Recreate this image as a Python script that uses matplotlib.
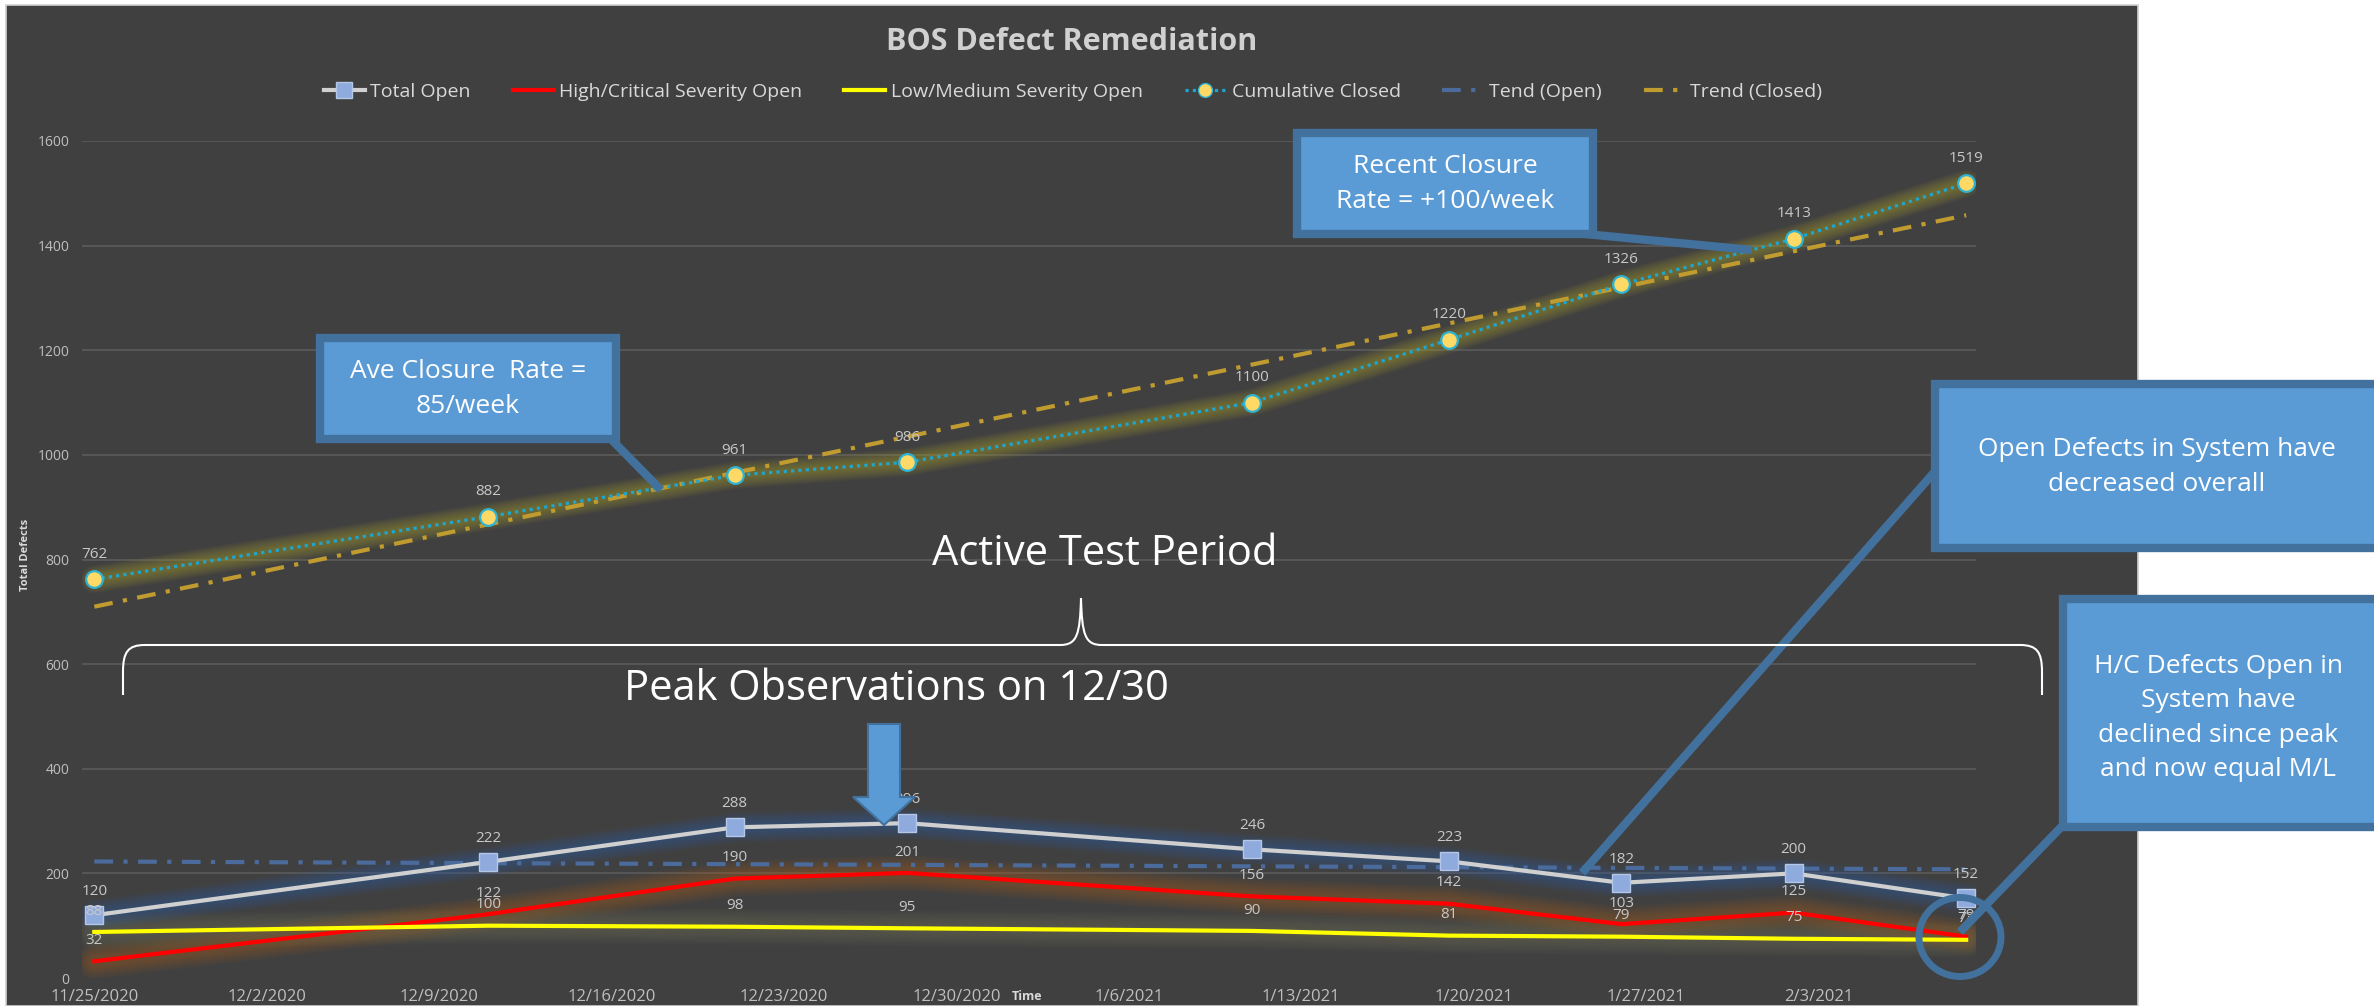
import numpy as np
import pandas as pd
import matplotlib
matplotlib.use('Agg')
import matplotlib.pyplot as plt
import matplotlib.dates as mdates
from matplotlib.lines import Line2D
from matplotlib.patches import Rectangle, Ellipse, Polygon, PathPatch
from matplotlib.path import Path
from matplotlib.ticker import FuncFormatter

# === DATA ===
dates = pd.to_datetime(['2020-11-25', '2020-12-11', '2020-12-21', '2020-12-28', '2021-01-11',
                        '2021-01-19', '2021-01-26', '2021-02-02', '2021-02-09'])
total_open = [120, 222, 288, 296, 246, 223, 182, 200, 152]
high_crit = [32, 122, 190, 201, 156, 142, 103, 125, 79]
low_med = [88, 100, 98, 95, 90, 81, 79, 75, 73]
cum_closed = [762, 882, 961, 986, 1100, 1220, 1326, 1413, 1519]
tick_dates = pd.date_range('2020-11-25', '2021-02-03', freq='7D')
y_ticks = [0, 200, 400, 600, 800, 1000, 1200, 1400, 1600]

# linear trendlines, like Excel does
xn = mdates.date2num(dates)
open_fit = np.polyfit(xn, total_open, 1)
closed_fit = np.polyfit(xn, cum_closed, 1)

W, H = 2374, 1006
BG = '#404040'
NARROW = ['Liberation Sans Narrow', 'Open Sans']
SANS = ['Open Sans', 'DejaVu Sans']
plt.rcParams['font.family'] = SANS

fig = plt.figure(figsize=(W / 100, H / 100), dpi=100, facecolor='white')
fig.patches.append(Rectangle((6 / W, 0), (2138 - 6) / W, 1 - 5 / H, transform=fig.transFigure,
                             facecolor=BG, edgecolor='#D0D0D0', lw=1.2, zorder=0))

ax = fig.add_axes([82 / W, 1 - 978 / H, (1976 - 82) / W, (978 - 141) / H], zorder=1)
ax.set_facecolor('none')
for s in ax.spines.values():
    s.set_visible(False)


def glow(y, color, wmax, alpha, n=12):
    # soft halo: many thin-alpha strokes of shrinking width
    for w in np.linspace(wmax, 4, n):
        ax.plot(dates, y, color=color, lw=w, alpha=alpha, solid_capstyle='round',
                solid_joinstyle='round', zorder=2)


# glows
glow(high_crit, '#B8601E', 26, 0.045)
glow(low_med, '#808060', 26, 0.04)
glow(total_open, '#3566A8', 22, 0.05)
glow(cum_closed, '#A8A030', 20, 0.05)

# trendlines
ax.plot(dates[[0, -1]], np.polyval(open_fit, xn[[0, -1]]), color='#4A6B9C', lw=3,
        dashes=(4.5, 2.5, 1, 2.5), zorder=3)
ax.plot(dates[[0, -1]], np.polyval(closed_fit, xn[[0, -1]]), color='#BF9B30', lw=3,
        dashes=(4.5, 2.5, 1, 2.5), zorder=3)

# series
ax.plot(dates, high_crit, color='#FF0000', lw=3, zorder=4)
ax.plot(dates, low_med, color='#FFFF00', lw=3, zorder=4)
ax.plot(dates, total_open, color='#D0D0D0', lw=3, marker='s', ms=13, mfc='#8FAADC',
        mec='#B4C7E7', mew=1, zorder=5)
ax.plot(dates, cum_closed, color='#1CA6D0', lw=2.3, dashes=(1, 1.3), marker='o', ms=12,
        mfc='#FFD966', mec='#2FB3D3', mew=1.6, zorder=5)

# data labels
for series, off in [(total_open, 17), (high_crit, 15), (low_med, 15), (cum_closed, 18)]:
    for d, v in zip(dates, series):
        ax.annotate(str(v), (d, v), xytext=(0, off), textcoords='offset points',
                    ha='center', va='center', fontsize=11, color='#C8C8C8', zorder=6)

# axes
ax.set_ylim(0, 1600)
ax.set_yticks(y_ticks)
ax.set_xlim(mdates.date2num(dates[0]) - 0.5, mdates.date2num(dates[-1]) + 0.4)
ax.set_xticks(tick_dates)
ax.xaxis.set_major_formatter(FuncFormatter(
    lambda v, p: '{d.month}/{d.day}/{d.year}'.format(d=mdates.num2date(v))))
ax.tick_params(axis='both', length=0, colors='#BFBFBF')
ax.tick_params(axis='y', labelsize=10, pad=9)
ax.tick_params(axis='x', labelsize=12, pad=8)
for t in ax.get_xticklabels():
    t.set_family(NARROW)
ax.yaxis.grid(True, color='#595959', lw=1.3)
ax.set_axisbelow(True)
ax.get_ygridlines()[0].set_visible(False)

# overlay in pixel coordinates for title, legend texts and shapes
ov = fig.add_axes([0, 0, 1, 1], zorder=5)
ov.set_xlim(0, W)
ov.set_ylim(H, 0)
ov.axis('off')
ov.patch.set_alpha(0)

ov.text(1072, 42, 'BOS Defect Remediation', ha='center', va='center', fontsize=22,
        fontweight='bold', color='#D0D0D0')
ov.text(1027, 997, 'Time', ha='center', va='center', fontsize=9, fontweight='bold',
        color='#D9D9D9', family=NARROW)
ov.text(26, 555, 'Total Defects', ha='center', va='center', rotation=90, fontsize=8,
        fontweight='bold', color='#D9D9D9', family=NARROW)

handles = [
    Line2D([], [], color='#D0D0D0', lw=3, marker='s', ms=11, mfc='#8FAADC', mec='#B4C7E7'),
    Line2D([], [], color='#FF0000', lw=3),
    Line2D([], [], color='#FFFF00', lw=3),
    Line2D([], [], color='#1CA6D0', lw=2.3, dashes=(1, 1.3), marker='o', ms=10,
           mfc='#FFD966', mec='#2FB3D3'),
    Line2D([], [], color='#4A6B9C', lw=3, dashes=(4.5, 2.5, 1, 2.5)),
    Line2D([], [], color='#BF9B30', lw=3, dashes=(4.5, 2.5, 1, 2.5)),
]
labels = ['Total Open', 'High/Critical Severity Open', 'Low/Medium Severity Open',
          'Cumulative Closed', 'Tend (Open)', 'Trend (Closed)']
fig.legend(handles, labels, loc='center', bbox_to_anchor=(1073 / W, 1 - 92 / H),
           ncol=6, frameon=False, fontsize=14, labelcolor='#D9D9D9', handlelength=2.1,
           handletextpad=0.3, columnspacing=2.15)

EDGE = '#41719C'
FILL = '#5B9BD5'


def callout(x0, y0, x1, y1, text, tx, ty, pointer):
    ov.plot(*zip(*pointer), color=EDGE, lw=6, solid_capstyle='butt', zorder=1)
    ov.add_patch(Rectangle((x0, y0), x1 - x0, y1 - y0, facecolor=FILL, edgecolor=EDGE,
                           lw=6, zorder=2))
    ov.text(tx, ty, text, ha='center', va='center', fontsize=19, color='white',
            linespacing=1.5, zorder=3)


callout(320, 338, 616, 439, 'Ave Closure  Rate =\n85/week', 468, 389,
        [(608, 436), (661, 490)])
callout(1297, 133, 1593, 234, 'Recent Closure\nRate = +100/week', 1445, 184,
        [(1585, 234), (1752, 250)])
callout(1935, 384, 2390, 548, 'Open Defects in System have\ndecreased overall', 2157, 467,
        [(1945, 460), (1582, 873)])
callout(2063, 599, 2390, 827, 'H/C Defects Open in\nSystem have\ndeclined since peak\nand now equal M/L',
        2218, 718, [(2066, 822), (1960, 932)])

ov.add_patch(Ellipse((1960, 937), 82, 79, facecolor='none', edgecolor=EDGE, lw=5, zorder=2))

# peak arrow
ov.add_patch(Polygon([(868, 724), (900, 724), (900, 797), (915, 797), (884, 825),
                      (853, 797), (868, 797)], closed=True, facecolor=FILL, edgecolor=EDGE,
                     lw=1.5, zorder=2))

ov.text(1105, 554, 'Active Test Period', ha='center', va='center', fontsize=30, color='white')
ov.text(896, 689, 'Peak Observations on 12/30', ha='center', va='center', fontsize=30,
        color='white')

# brace
verts = [(123, 695), (123, 672), (123, 652), (128, 645), (145, 645), (1060, 645),
         (1077, 645), (1080, 635), (1081, 598), (1082, 635), (1085, 645), (1102, 645),
         (2020, 645), (2037, 645), (2042, 652), (2042, 672), (2042, 695)]
codes = [Path.MOVETO, Path.LINETO, Path.CURVE4, Path.CURVE4, Path.CURVE4, Path.LINETO,
         Path.CURVE4, Path.CURVE4, Path.CURVE4, Path.CURVE4, Path.CURVE4, Path.CURVE4,
         Path.LINETO, Path.CURVE4, Path.CURVE4, Path.CURVE4, Path.LINETO]
ov.add_patch(PathPatch(Path(verts, codes), facecolor='none', edgecolor='white', lw=1.5))

fig.savefig('out.png', dpi=100, facecolor='white')
